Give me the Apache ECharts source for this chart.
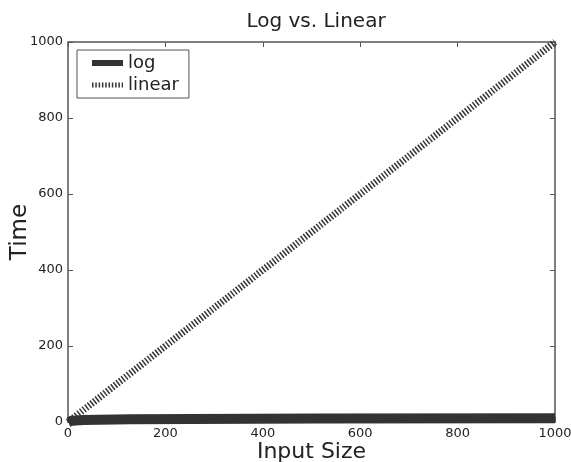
<!DOCTYPE html>
<html>
<head>
<meta charset="utf-8">
<script src="https://cdn.jsdelivr.net/npm/echarts@6/dist/echarts.min.js"></script>
<style>
  html, body { margin: 0; padding: 0; background: #fff; }
  #chart { width: 571px; height: 462px; }
</style>
</head>
<body>
<div id="chart"></div>
<script>
// values
const logX = [1, 2, 4, 8, 16, 32, 64, 128, 256, 512, 1000]
const logY = [0, 1, 2, 3, 4, 5, 6, 7, 8, 9, 10]
const linearX = [0, 1000]
const linearY = [0, 1000]
const xTicks = [0, 200, 400, 600, 800, 1000]
const yTicks = [0, 200, 400, 600, 800, 1000]

const ink = '#333333'
const axisColor = '#555555'
const font = 'DejaVu Sans'

const chart = echarts.init(document.getElementById('chart'))

const pairs = (xs, ys) => xs.map((x, i) => [x, ys[i]])

const baseAxis = {
  min: 0,
  max: 1000,
  interval: 200,
  axisLine: { show: true, onZero: false, lineStyle: { color: axisColor, width: 1.5 } },
  axisTick: { show: true, inside: true, length: 5, lineStyle: { color: axisColor } },
  splitLine: { show: false }
}

const option = {
  animation: false,
  backgroundColor: '#fff',
  textStyle: { fontFamily: font },
  title: {
    text: 'Log vs. Linear',
    left: 311,
    textAlign: 'center',
    top: 7,
    textStyle: { fontFamily: font, fontSize: 20, fontWeight: 'normal', color: '#222' }
  },
  legend: {
    left: 77,
    top: 50,
    orient: 'vertical',
    padding: [4, 10, 4, 12],
    itemGap: 4,
    itemWidth: 31,
    itemHeight: 18,
    borderColor: axisColor,
    borderWidth: 1,
    borderRadius: 0,
    itemStyle: { opacity: 0 },
    textStyle: { fontFamily: font, fontSize: 18, color: '#222' },
    data: [
      { name: 'log', lineStyle: { width: 6 } },
      { name: 'linear', lineStyle: { width: 5 } }
    ]
  },
  grid: { left: 68, right: 16, top: 42, bottom: 40, outerBoundsMode: 'none' },
  xAxis: [
    Object.assign({}, baseAxis, {
      type: 'value',
      position: 'bottom',
      name: 'Input Size',
      nameLocation: 'middle',
      nameGap: 19,
      nameMoveOverlap: false,
      nameTextStyle: { fontFamily: font, fontSize: 22, color: '#222' },
      axisLabel: {
        color: '#222', fontSize: 13, margin: 5,
        formatter: v => (xTicks.includes(v) ? String(v) : '')
      }
    }),
    Object.assign({}, baseAxis, { type: 'value', position: 'top', axisLabel: { show: false } })
  ],
  yAxis: [
    Object.assign({}, baseAxis, {
      type: 'value',
      position: 'left',
      name: 'Time',
      nameLocation: 'middle',
      nameGap: 36,
      nameMoveOverlap: false,
      nameTextStyle: { fontFamily: font, fontSize: 23, color: '#222' },
      axisLabel: {
        color: '#222', fontSize: 13, margin: 5,
        formatter: v => (yTicks.includes(v) ? String(v) : '')
      }
    }),
    Object.assign({}, baseAxis, { type: 'value', position: 'right', axisLabel: { show: false } })
  ],
  series: [
    {
      name: 'log',
      type: 'line',
      symbol: 'none',
      data: pairs(logX, logY),
      lineStyle: { color: ink, width: 10, cap: 'butt' },
      itemStyle: { color: ink }
    },
    {
      name: 'linear',
      type: 'line',
      symbol: 'none',
      data: pairs(linearX, linearY),
      lineStyle: { color: ink, width: 7, type: [1.5, 1.8], cap: 'butt' },
      itemStyle: { color: ink }
    }
  ]
}

chart.setOption(option)
</script>
</body>
</html>
